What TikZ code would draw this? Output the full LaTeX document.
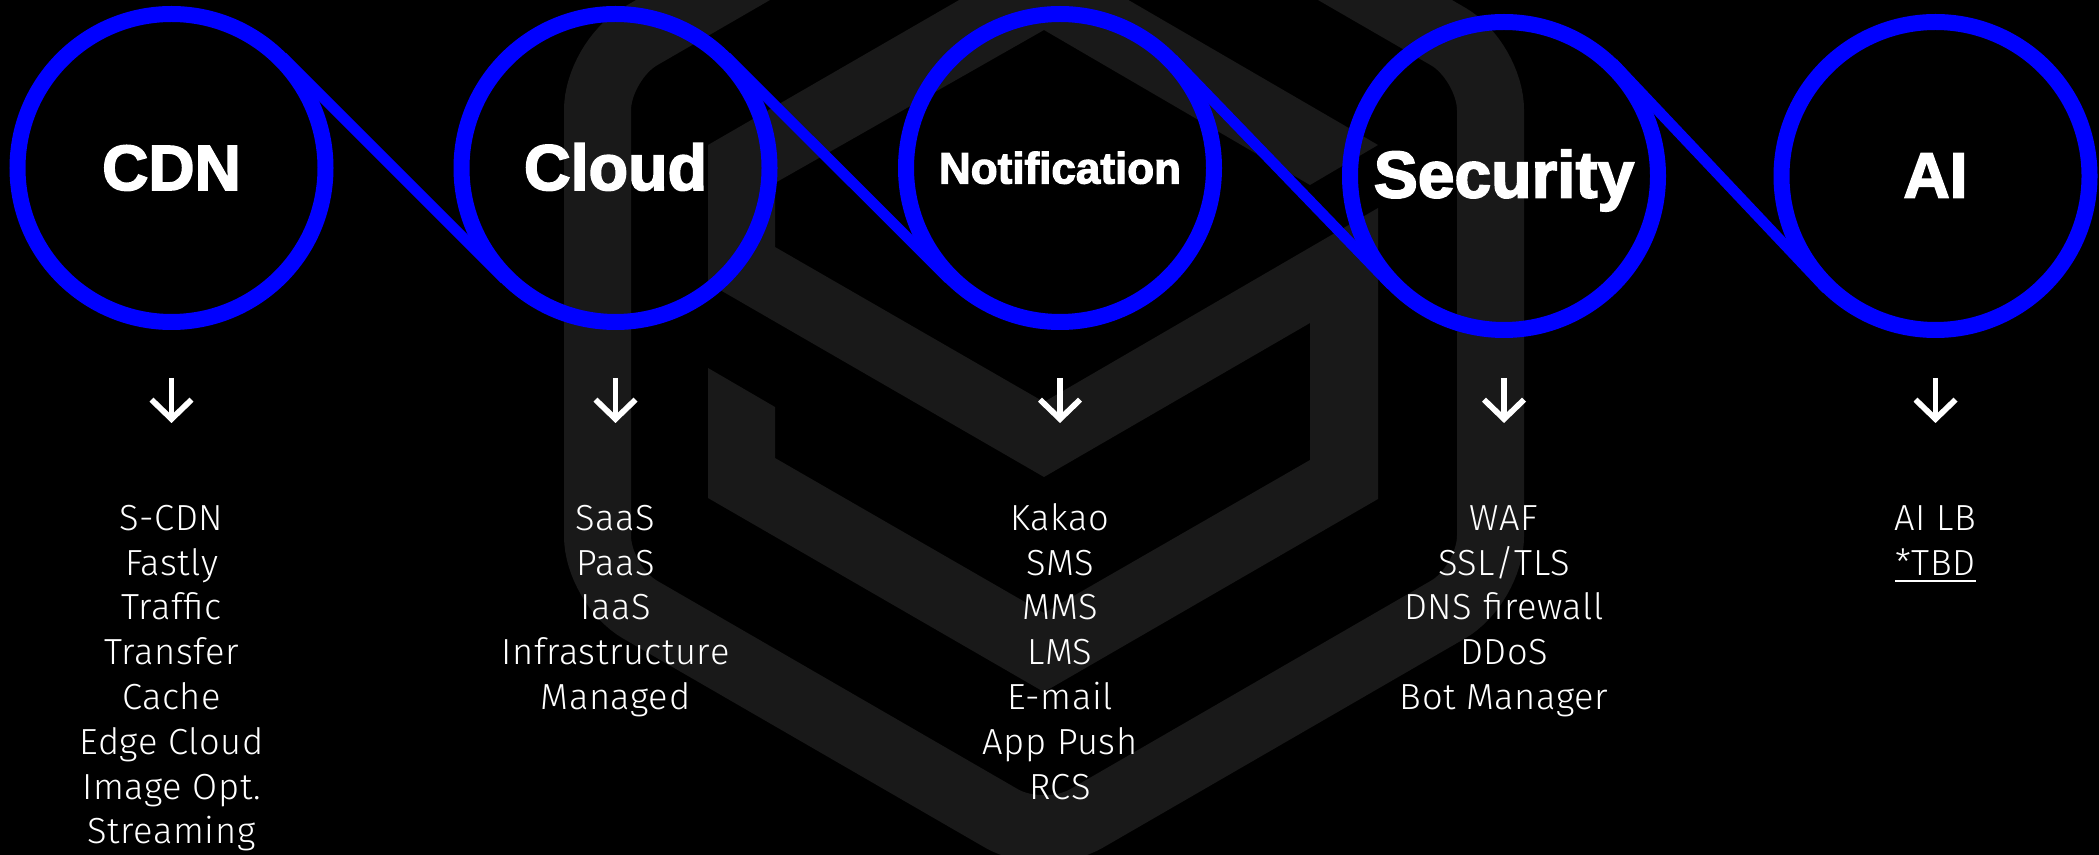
\documentclass[tikz,border=0pt]{standalone}
\usepackage{fontspec}
\usetikzlibrary{arrows.meta}
\newfontfamily\bodyfont[LetterSpace=1.6]{Fira Sans Light}
\newfontfamily\headfont[FakeBold=2.6]{Liberation Sans Bold}
\definecolor{ring}{HTML}{0000FF}
\definecolor{logo}{HTML}{191919}
\newcommand\undl[1]{\setbox0=\hbox{#1}\rlap{\vrule width\wd0 height-3.4pt depth5pt}\box0}
\tikzset{
  ringnode/.style={circle,draw=ring,line width=12pt,minimum size=231pt,inner sep=0pt,outer sep=2.25pt,text=white},
  head/.style={font=\headfont\fontsize{#1}{#1}\selectfont},
  base/.style={text height=15pt+#1*0.75pt,text depth=15pt-#1*0.75pt},
  link/.style={draw=ring,line width=8pt},
  dnarrow/.style={draw=white,line width=4.3pt,-{Straight Barb[length=14.5pt,width=30pt,line width=4.3pt]}},
  listing/.style={anchor=north,inner sep=0pt,align=center,text=white,font=\bodyfont\fontsize{27.2}{33.6}\selectfont},
  logoring/.style={draw=logo,line width=50.25pt,rounded corners=36.75pt},
  logofill/.style={fill=logo}
}
\begin{document}
\begin{tikzpicture}[x=0.75pt,y=-0.75pt]
\fill[black] (0,0) rectangle (2099,855);
\useasboundingbox (0,0) rectangle (2099,855);
\begin{scope}
\clip (0,0) rectangle (2099,855);
\draw[logoring] (597.5,300) -- (597.5,61) -- (1044,-197) -- (1490.5,61) -- (1490.5,585) -- (1044,843) -- (597.5,585) -- cycle;
\fill[logofill] (1378,145) -- (1044,-49) -- (708,145) -- (708,283) -- (1044,477) -- (1310,323) -- (1310,460)
  -- (1044,613) -- (775,458) -- (775,407) -- (708,368) -- (708,498) -- (1044,692) -- (1378,499) -- (1378,208)
  -- (1044,402) -- (775,247) -- (775,183) -- (1044,30) -- (1310,185) -- cycle;
\end{scope}
\node[ringnode,head=48,base=24] (c1) at (171.5,168) {CDN};
\node[ringnode,head=48.5,base=24] (c2) at (615.5,168) {Cloud};
\node[ringnode,head=33,base=15.5] (c3) at (1060,168) {Notification};
\node[ringnode,head=49.5,base=23] (c4) at (1504,176) {Security};
\node[ringnode,head=48,base=23] (c5) at (1935.5,176) {AI};
\draw[link] (c1.45) -- (c2.225);
\draw[link] (c2.45) -- (c3.225);
\draw[link] (c3.44) -- (c4.224);
\draw[link] (c4.46.7) -- (c5.226.7);
\foreach \i/\x in {1/171.5,2/615.5,3/1060,4/1504,5/1935.5}{
  \coordinate (s\i) at (\x,378);
  \coordinate (e\i) at (\x,423);
  \draw[dnarrow] (s\i) -- (e\i);
}
\node[listing] (l1) at (171.5,498.6) {\strut S-CDN\\\strut Fastly\\\strut Traffic\\\strut Transfer\\\strut Cache\\\strut Edge Cloud\\\strut Image Opt.\\\strut Streaming};
\node[listing] (l2) at (615.5,498.6) {\strut SaaS\\\strut PaaS\\\strut IaaS\\\strut Infrastructure\\\strut Managed};
\node[listing] (l3) at (1060,498.6) {\strut Kakao\\\strut SMS\\\strut MMS\\\strut LMS\\\strut E-mail\\\strut App Push\\\strut RCS};
\node[listing] (l4) at (1504,498.6) {\strut WAF\\\strut SSL/TLS\\\strut DNS firewall\\\strut DDoS\\\strut Bot Manager};
\node[listing] (l5) at (1935.5,498.6) {\strut AI LB\\\strut \undl{*TBD}};
\end{tikzpicture}
\end{document}
